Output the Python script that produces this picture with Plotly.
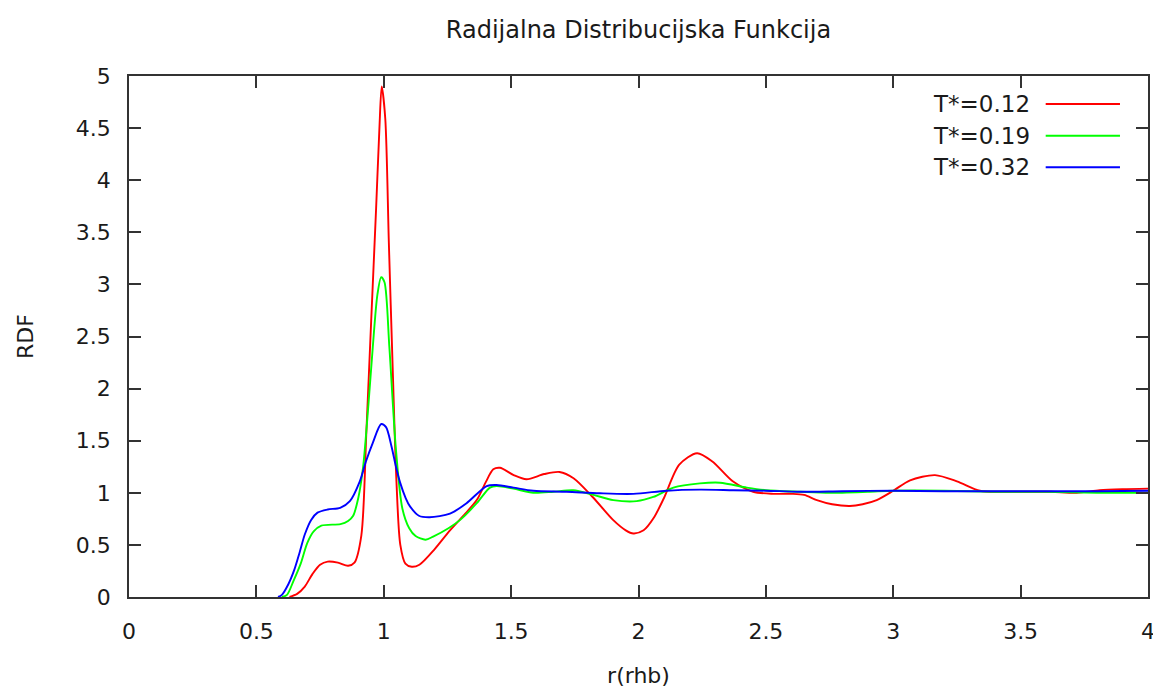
import plotly.graph_objects as go

# ---- data ----
r_red = [0.63, 0.66, 0.69, 0.72, 0.75, 0.78, 0.82, 0.86, 0.885, 0.912, 0.932, 0.951, 0.970, 0.983, 0.992,
         1.006, 1.02, 1.035, 1.05, 1.065, 1.085, 1.11, 1.14, 1.20, 1.26, 1.32, 1.365, 1.40, 1.43, 1.456,
         1.51, 1.56, 1.63, 1.69, 1.745, 1.82, 1.90, 1.95, 1.98, 2.02, 2.06, 2.10, 2.16, 2.23, 2.29, 2.37, 2.45,
         2.53, 2.60, 2.65, 2.70, 2.76, 2.83, 2.88, 2.935, 3.0, 3.066, 3.164, 3.25, 3.34, 3.42, 3.52, 3.62,
         3.72, 3.81, 3.90, 4.0]
g_red = [0.0, 0.03, 0.10, 0.22, 0.31, 0.34, 0.33, 0.30, 0.33, 0.59, 1.6, 2.67, 3.73, 4.5, 4.9,
         4.59, 3.4, 2.2, 1.1, 0.5, 0.32, 0.29, 0.31, 0.46, 0.64, 0.80, 0.93, 1.10, 1.225, 1.24,
         1.17, 1.13, 1.18, 1.20, 1.14, 0.96, 0.74, 0.64, 0.61, 0.64, 0.76, 0.95, 1.27, 1.38, 1.30, 1.11, 1.01,
         0.99, 0.99, 0.98, 0.93, 0.89, 0.873, 0.89, 0.93, 1.02, 1.12, 1.17, 1.11, 1.02, 1.01, 1.01, 1.01,
         1.00, 1.025, 1.035, 1.04]

r_green = [0.60, 0.62, 0.645, 0.674, 0.70, 0.725, 0.755, 0.83, 0.86, 0.88, 0.90, 0.919, 0.94, 0.957, 0.975,
           0.99, 1.003, 1.022, 1.048, 1.073, 1.10, 1.125, 1.164, 1.194, 1.254, 1.30, 1.365, 1.417, 1.443,
           1.509, 1.587, 1.666, 1.744, 1.823, 1.901, 1.993, 2.058, 2.137, 2.241, 2.32, 2.425, 2.50, 2.634,
           2.75, 2.9, 3.0, 3.2, 3.4, 3.6, 3.8, 4.0]
g_green = [0.0, 0.02, 0.15, 0.32, 0.52, 0.63, 0.685, 0.70, 0.73, 0.78, 0.95, 1.25, 1.85, 2.40, 2.90,
           3.07, 3.02, 2.40, 1.41, 0.85, 0.66, 0.585, 0.55, 0.58, 0.66, 0.74, 0.90, 1.05, 1.065,
           1.04, 1.00, 1.01, 1.025, 0.98, 0.93, 0.92, 0.96, 1.05, 1.09, 1.097, 1.05, 1.025, 1.01,
           1.0, 1.01, 1.02, 1.02, 1.01, 1.01, 1.0, 1.0]

r_blue = [0.585, 0.60, 0.625, 0.648, 0.67, 0.69, 0.715, 0.74, 0.78, 0.829, 0.867, 0.906, 0.93, 0.957,
          0.99, 1.009, 1.03, 1.048, 1.064, 1.086, 1.103, 1.138, 1.18, 1.26, 1.325, 1.404, 1.443, 1.509,
          1.587, 1.718, 1.849, 1.98, 2.11, 2.241, 2.372, 2.50, 2.634, 2.8, 3.0, 3.2, 3.4, 3.6, 3.8, 4.0]
g_blue = [0.0, 0.02, 0.12, 0.255, 0.43, 0.60, 0.74, 0.81, 0.84, 0.856, 0.92, 1.11, 1.30, 1.48,
          1.66, 1.63, 1.45, 1.25, 1.10, 0.95, 0.87, 0.78, 0.765, 0.80, 0.90, 1.065, 1.075, 1.05,
          1.02, 1.01, 0.995, 0.99, 1.02, 1.03, 1.025, 1.02, 1.01, 1.015, 1.02, 1.015, 1.015, 1.015, 1.015, 1.02]

series_names = ["T*=0.12", "T*=0.19", "T*=0.32"]
series_colors = ["#ff0000", "#00ff00", "#0000ff"]
x_ticks = [0, 0.5, 1, 1.5, 2, 2.5, 3, 3.5, 4]
y_ticks = [0, 0.5, 1, 1.5, 2, 2.5, 3, 3.5, 4, 4.5, 5]

FONT = "DejaVu Sans"
TXT = "#1a1a1a"

# page has an 8px body margin, so the figure is sized/offset to compensate
W, H = 1153, 680

fig = go.Figure()
for name, xs, ys, col in zip(series_names, [r_red, r_green, r_blue], [g_red, g_green, g_blue], series_colors):
    fig.add_trace(go.Scatter(x=xs, y=ys, mode="lines", name=name,
                             line=dict(color=col, width=1.9, shape="spline", smoothing=0.8),
                             showlegend=False))

# manual gnuplot-style legend (text left, sample line right)
leg_y = [0.9463, 0.8854, 0.8248]
for name, col, yy in zip(series_names, series_colors, leg_y):
    fig.add_annotation(x=0.8859, y=yy, xref="paper", yref="paper", text=name, showarrow=False,
                       xanchor="right", yanchor="middle", font=dict(family=FONT, size=23, color=TXT))
    fig.add_shape(type="line", xref="paper", yref="paper", x0=0.8996, x1=0.9725, y0=yy, y1=yy,
                  line=dict(color=col, width=1.9))

axis_common = dict(showline=True, mirror="ticks", linecolor="#333333", linewidth=1.5,
                   ticks="inside", ticklen=12, tickwidth=1.5, tickcolor="#333333",
                   showgrid=False, zeroline=False, automargin=False,
                   tickfont=dict(family=FONT, size=22, color=TXT))

fig.update_xaxes(range=[0, 4], tickvals=x_ticks, ticktext=[f"{v:g}" for v in x_ticks],
                 ticklabelstandoff=14,
                 title=dict(text="r(rhb)", font=dict(family=FONT, size=22, color=TXT), standoff=26),
                 **axis_common)
fig.update_yaxes(range=[0, 5], tickvals=y_ticks, ticktext=[f"{v:g}" for v in y_ticks],
                 ticklabelstandoff=12,
                 title=dict(text="RDF", font=dict(family=FONT, size=22, color=TXT), standoff=36),
                 **axis_common)

fig.update_layout(
    width=W, height=H,
    margin=dict(l=121, r=13, t=68, b=91, autoexpand=False),
    paper_bgcolor="white", plot_bgcolor="white",
    title=dict(text="Radijalna Distribucijska Funkcija", x=0.5, xref="paper", xanchor="center",
               y=1 - 22 / H, yref="container", yanchor="middle",
               font=dict(family=FONT, size=24, color=TXT)),
)

fig.write_html("out.html")
